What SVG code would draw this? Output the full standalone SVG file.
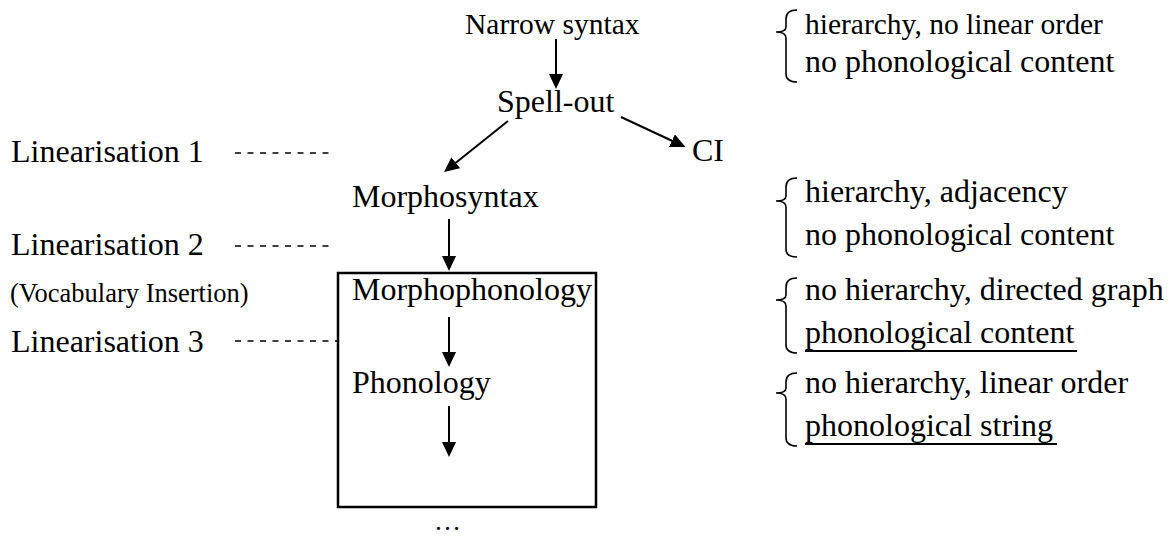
<svg xmlns="http://www.w3.org/2000/svg" width="1172" height="536" viewBox="0 0 1172 536">
<style>
text{font-family:"Liberation Serif","Times New Roman",serif;fill:#000;font-size:32px}
.sm{font-size:29.5px}
.vi{font-size:26.5px}
.conn{stroke:#000;stroke-width:2;fill:none}
.dash{stroke:#000;stroke-width:1.6;stroke-dasharray:6 6.5;fill:none}
.brace{stroke:#000;stroke-width:1.6;fill:none}
.ul{stroke:#000;stroke-width:2}
</style>
<defs>
<marker id="ah" markerUnits="userSpaceOnUse" markerWidth="16" markerHeight="15" refX="10" refY="7" orient="auto">
<path d="M0,0 L15,7 L0,14 z" fill="#000"/>
</marker>
</defs>
<rect width="1172" height="536" fill="#fff"/>

<g id="connectors">
<line class="conn" x1="556" y1="39" x2="556" y2="84" marker-end="url(#ah)"/>
<line class="conn" x1="508" y1="121" x2="448" y2="169" marker-end="url(#ah)"/>
<line class="conn" x1="621" y1="117" x2="681" y2="145" marker-end="url(#ah)"/>
<line class="conn" x1="449" y1="219" x2="449" y2="266" marker-end="url(#ah)"/>
<line class="conn" x1="449" y1="317" x2="449" y2="362" marker-end="url(#ah)"/>
<line class="conn" x1="449" y1="406" x2="449" y2="452" marker-end="url(#ah)"/>
<line class="dash" x1="235" y1="153" x2="335" y2="153"/>
<line class="dash" x1="235" y1="246" x2="335" y2="246"/>
<line class="dash" x1="235" y1="341" x2="338" y2="341"/>
</g>

<g id="box"><rect x="338" y="273" width="258" height="234" fill="none" stroke="#000" stroke-width="2.5"/></g>

<g id="narrow-syntax"><text class="sm" x="465" y="34">Narrow syntax</text></g>
<g id="spell-out"><text x="497" y="112">Spell-out</text></g>
<g id="ci"><text x="692" y="161">CI</text></g>
<g id="morphosyntax"><text x="352" y="207">Morphosyntax</text></g>
<g id="morphophonology"><text x="352" y="300">Morphophonology</text></g>
<g id="phonology"><text x="352" y="393">Phonology</text></g>
<g id="ellipsis"><text x="434" y="530" style="font-size:27px">…</text></g>

<g id="lin1"><text x="11" y="162">Linearisation 1</text></g>
<g id="lin2"><text x="11" y="255">Linearisation 2</text></g>
<g id="vocab"><text class="vi" x="10" y="302">(Vocabulary Insertion)</text></g>
<g id="lin3"><text x="11" y="352">Linearisation 3</text></g>

<g id="desc1">
<path class="brace" d="M797,10 C790,10 786,13 786,19 L786,27 C786,30 783,32 776,32 C783,32 786,34 786,38 L786,74 C786,79 790,82 797,82"/>
<text class="sm" x="805" y="34">hierarchy, no linear order</text>
<text x="805" y="72">no phonological content</text>
</g>
<g id="desc2">
<path class="brace" d="M797,178 C790,178 786,181 786,187 L786,196 C786,199 783,201 776,201 C783,201 786,203 786,207 L786,249 C786,254 790,257 797,257"/>
<text x="805" y="202">hierarchy, adjacency</text>
<text x="805" y="245">no phonological content</text>
</g>
<g id="desc3">
<path class="brace" d="M797,278 C790,278 786,281 786,287 L786,295 C786,298 783,300 776,300 C783,300 786,302 786,306 L786,345 C786,350 790,353 797,353"/>
<text x="805" y="300">no hierarchy, directed graph</text>
<text x="805" y="343">phonological content</text>
<line class="ul" x1="805" y1="351" x2="1077" y2="351"/>
</g>
<g id="desc4">
<path class="brace" d="M797,373 C790,373 786,376 786,382 L786,388 C786,391 783,393 776,393 C783,393 786,395 786,399 L786,438 C786,443 790,446 797,446"/>
<text x="805" y="393">no hierarchy, linear order</text>
<text x="805" y="436">phonological string</text>
<line class="ul" x1="805" y1="444" x2="1057" y2="444"/>
</g>
</svg>
